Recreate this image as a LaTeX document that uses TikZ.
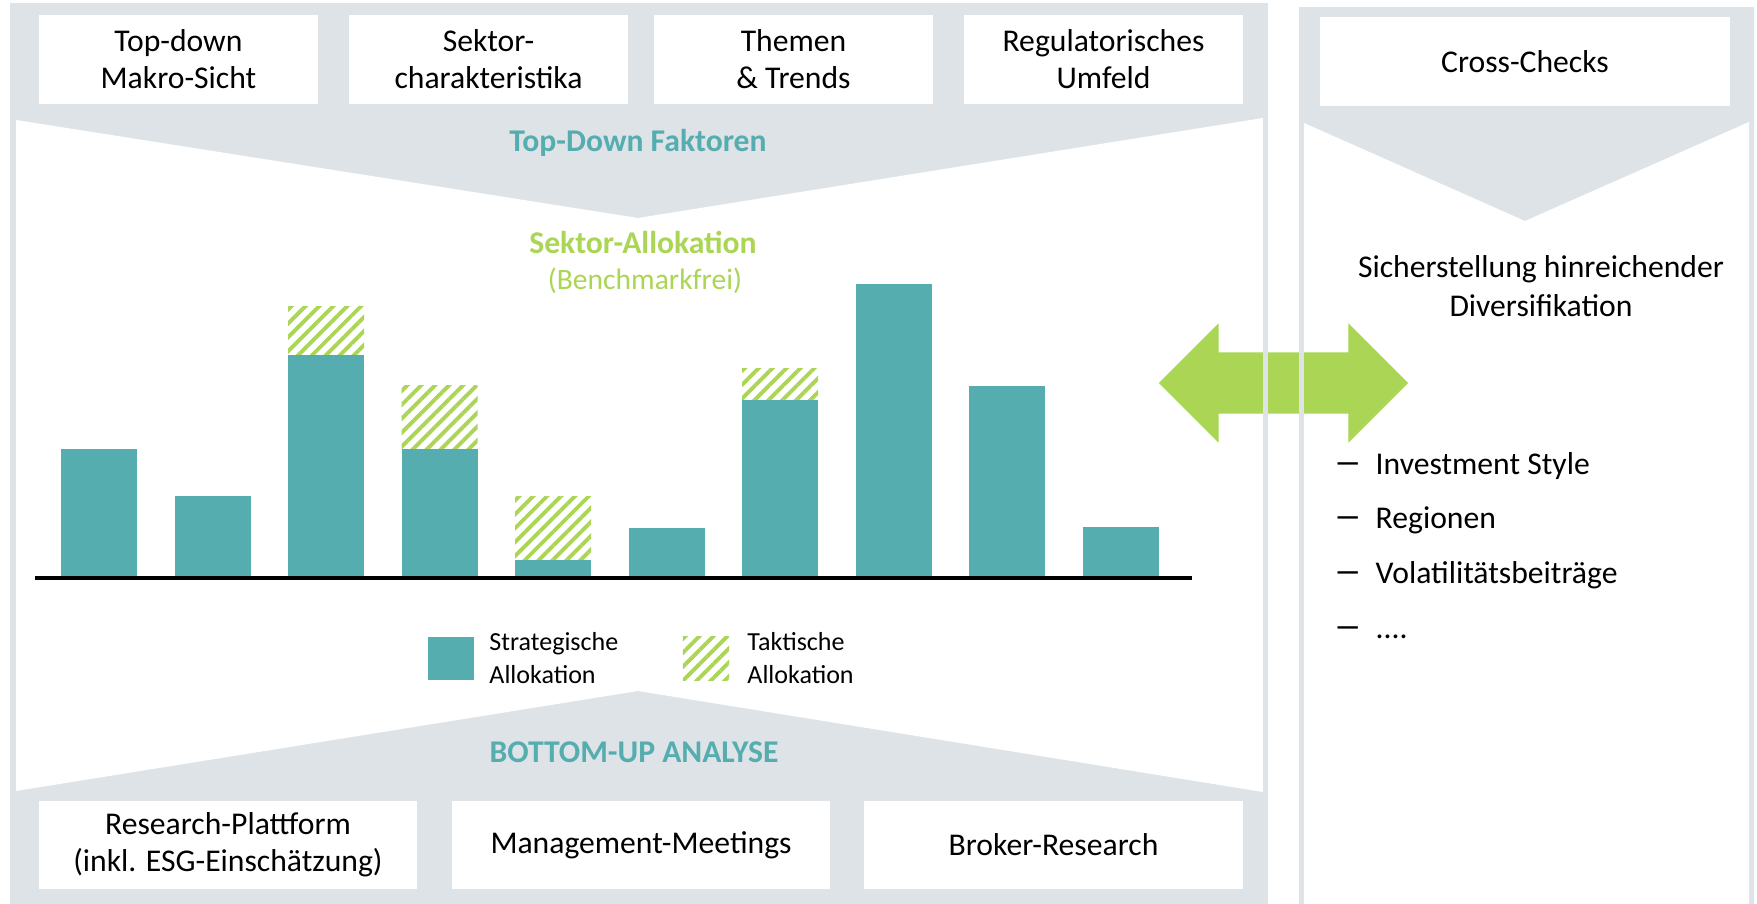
\documentclass[tikz,border=0pt]{standalone}
\usepackage{fontspec}
\setmainfont{Carlito}
\usetikzlibrary{positioning,shapes.arrows,patterns.meta}
\definecolor{panelgray}{RGB}{221,227,230}
\definecolor{tealbar}{RGB}{86,173,175}
\definecolor{hatchgreen}{RGB}{171,213,84}

\begin{document}
\begin{tikzpicture}[
    x=0.01cm, y=-0.01cm,
    txt/.style={font=\fontsize{9}{10.5}\selectfont, align=center, inner sep=0},
    topbox/.style={txt, fill=white, minimum width=2.79cm, minimum height=0.88cm},
    botbox/.style={topbox, minimum width=3.78cm},
    title/.style={font=\fontsize{9}{10.5}\selectfont\bfseries, inner sep=0, anchor=base},
    legtext/.style={font=\fontsize{7.4}{9.4}\selectfont, align=left, inner sep=0},
    listitem/.style={font=\fontsize{9}{10.5}\selectfont, inner sep=0, anchor=base west},
    hatch/.style={pattern={Lines[angle=45,distance=2.8pt,line width=1.1pt]}, pattern color=hatchgreen}
]
    \useasboundingbox (0,0) rectangle (1757,904);

    % --- Panels ---
    \fill[panelgray] (10,3) rectangle (1268,904);
    \fill[white] (16,120) -- (638,218) -- (1263,118) -- (1263,792) -- (638,691) -- (16,791) -- cycle;
    \fill[panelgray] (1299,7) rectangle (1754,904);
    \fill[white] (1304,123) -- (1525,221) -- (1749,122) -- (1749,904) -- (1304,904) -- cycle;

    % --- Top-down inputs ---
    \node[topbox] (makro) at (178.5,59.5) {Top-down\\Makro-Sicht};
    \node[topbox] (sektor) at (488.5,59.5) {Sektor-\\charakteristika};
    \node[topbox] (themen) at (793.5,59.5) {Themen\\\& Trends};
    \node[topbox] (regul) at (1103.5,59.5) {Regulatorisches\\Umfeld};
    \node[title, text=tealbar] (tdf) at (638,152) {Top-Down Faktoren};

    % --- Sector allocation chart ---
    \node[title, text=hatchgreen] (alloc) at (643,254) {Sektor-Allokation};
    \node[txt, anchor=base, text=hatchgreen, font=\fontsize{8.4}{10}\selectfont] (bmfree) at (645,290) {(Benchmarkfrei)};
    \foreach \k/\top in {1/449,2/496,3/355,4/449,5/560,6/528,7/400,8/284,9/386,10/527}
        \fill[tealbar] ({61+113.5*(\k-1)},577) rectangle ({137+113.5*(\k-1)},\top);
    \foreach \k/\lo/\hi in {3/355/307,4/449/386,5/560/497,7/400/369}
        \fill[hatch] ({61+113.5*(\k-1)},\lo) rectangle ({137+113.5*(\k-1)},\hi);
    \draw[line width=1.3pt] (35,578) -- (1192,578);

    % --- Legend ---
    \node[fill=tealbar, minimum width=0.46cm, minimum height=0.43cm, inner sep=0] (legS) at (451,658.5) {};
    \node[legtext, right=0.14cm of legS] (legStxt) {Strategische\\Allokation};
    \node[hatch, minimum width=0.46cm, minimum height=0.43cm, inner sep=0] (legT) at (706,658.5) {};
    \node[legtext, right=0.17cm of legT] (legTtxt) {Taktische\\Allokation};

    % --- Bottom-up inputs ---
    \node[title, text=tealbar] (bua) at (634,763) {BOTTOM-UP ANALYSE};
    \node[botbox] (research) at (228,845) {Research-Plattform\\(inkl. ESG-Einschätzung)};
    \node[botbox] (mgmt) at (641,845) {Management-Meetings};
    \node[botbox] (broker) at (1053.5,845) {Broker-Research};

    % --- Cross-checks ---
    \node[topbox, minimum width=4.10cm, minimum height=0.89cm] (cross) at (1525,61.5) {Cross-Checks};
    \node[txt, font=\fontsize{9}{11}\selectfont] (divers) at (1541,286) {Sicherstellung hinreichender\\Diversifikation};
    \foreach \n/\yy/\lbl in {1/475/Investment Style,2/529/Regionen,3/584/Volatilitätsbeiträge} {
        \node[listitem] (dash\n) at (1333,\yy) {\scalebox{1.8}[1.2]{–}};
        \node[listitem] (item\n) at (1375,\yy) {\lbl};
    }
    \node[listitem] (dash4) at (1333,639) {\scalebox{1.8}[1.2]{–}};
    \node[listitem] (item4) at (1375,639) {....};

    % --- Link arrow ---
    \node[double arrow, fill=hatchgreen, minimum height=2.49cm, minimum width=1.18cm,
          double arrow head extend=0.29cm, inner xsep=0, inner ysep=0.3cm] (link) at (1283.5,383) {};
    \fill[panelgray] (1263,3) rectangle (1268,904);
    \fill[panelgray] (1299,7) rectangle (1304,904);
\end{tikzpicture}
\end{document}
